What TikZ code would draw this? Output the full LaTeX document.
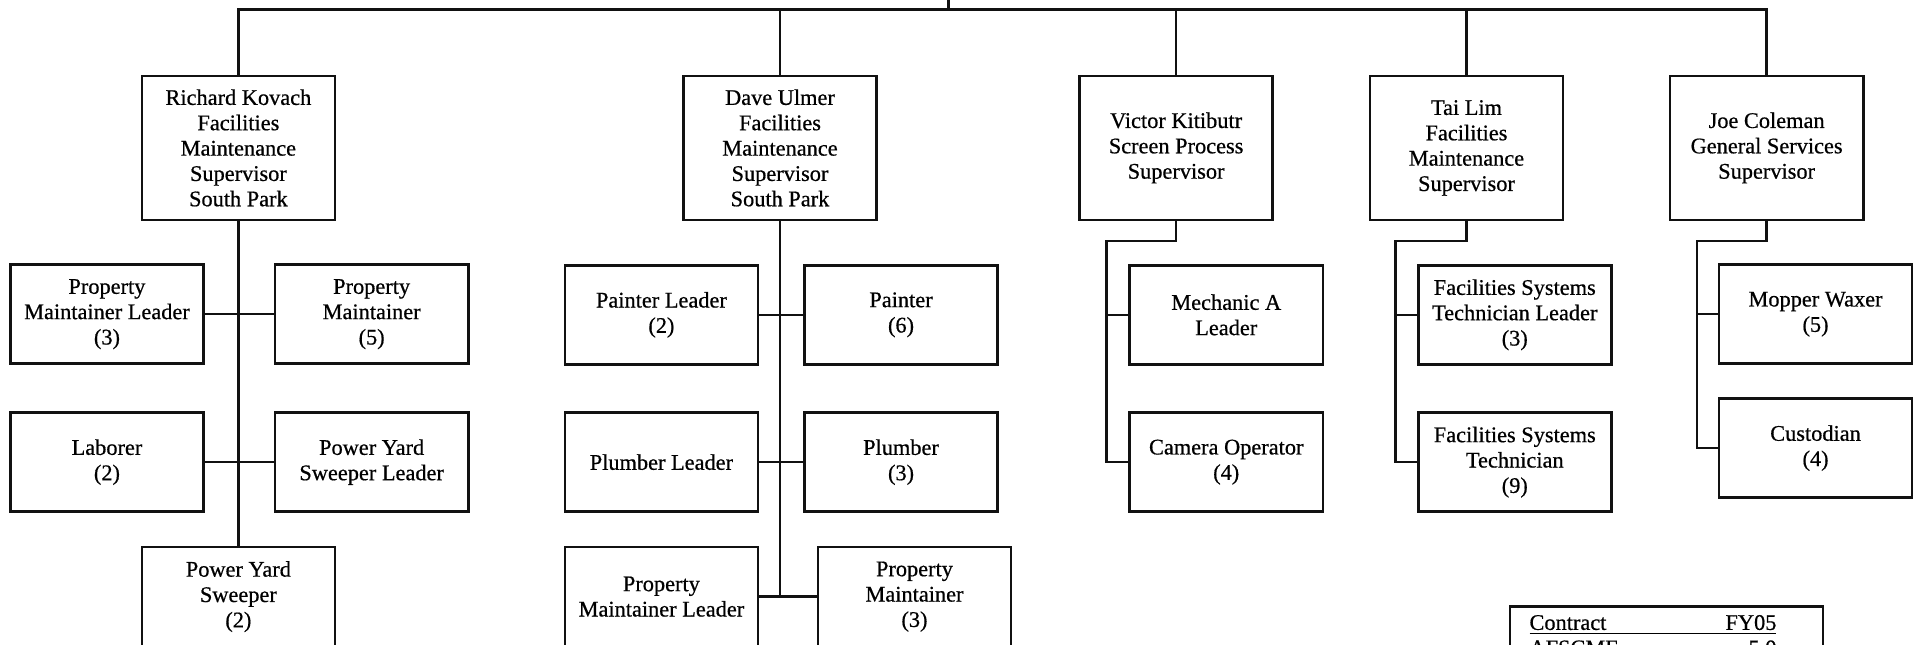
\documentclass[tikz,border=0pt]{standalone}
\usepackage{fontspec}
\setmainfont{Liberation Serif}[FakeBold=0.6]
\newfontfamily\chartfont{Liberation Serif}[FakeBold=0.6]
\usepackage{xcolor}
\definecolor{inkline}{HTML}{111111}
\definecolor{textmain}{HTML}{000000}

\begin{document}
\begin{tikzpicture}[
        x=0.02cm, y=-0.02cm,
        font=\chartfont\fontsize{10.4}{11.8}\selectfont,
        sup_box/.style={
            rectangle,
            draw=inkline,
            line width=1.2pt,
            fill=white,
            text=textmain,
            align=center,
            inner sep=2pt,
            minimum width=3.16cm,
            minimum height=2.36cm
        },
        job_box/.style={
            sup_box,
            minimum height=1.62cm
        },
        table_box/.style={
            rectangle,
            draw=inkline,
            line width=1.2pt,
            text=textmain,
            align=left,
            inner xsep=0.32cm,
            inner ysep=0.14cm,
            text width=4.48cm,
            anchor=north west
        },
        link/.style={
            draw=inkline,
            line width=1.2pt
        }
    ]

    % Page frame (the chart is cut off at the bottom)
    \useasboundingbox (0,0) rectangle (1568,527);
    \clip (0,0) rectangle (1568,527);

    % Supervisors
    \node[sup_box] (kovach) at (195,121) {Richard Kovach\\Facilities\\Maintenance\\Supervisor\\South Park};
    \node[sup_box] (ulmer) at (638,121) {Dave Ulmer\\Facilities\\Maintenance\\Supervisor\\South Park};
    \node[sup_box] (kitibutr) at (962,121) {Victor Kitibutr\\Screen Process\\Supervisor};
    \node[sup_box] (lim) at (1199.5,121) {Tai Lim\\Facilities\\Maintenance\\Supervisor};
    \node[sup_box] (coleman) at (1445,121) {Joe Coleman\\General Services\\Supervisor};

    % Kovach crews
    \node[job_box] (pml_a) at (87.5,257) {Property\\Maintainer Leader\\(3)};
    \node[job_box] (pm_a) at (304,257) {Property\\Maintainer\\(5)};
    \node[job_box] (laborer) at (87.5,378) {Laborer\\(2)};
    \node[job_box] (pysl_a) at (304,378) {Power Yard\\Sweeper Leader};
    \node[job_box] (pys_a) at (195,488) {Power Yard\\Sweeper\\(2)};

    % Ulmer crews
    \node[job_box] (painter_lead) at (541,257.5) {Painter Leader\\(2)};
    \node[job_box] (painter) at (737,257.5) {Painter\\(6)};
    \node[job_box] (plumber_lead) at (541,378) {Plumber Leader};
    \node[job_box] (plumber) at (737,378) {Plumber\\(3)};
    \node[job_box] (pml_b) at (541,488) {Property\\Maintainer Leader};
    \node[job_box] (pm_b) at (748,488) {Property\\Maintainer\\(3)};

    % Kitibutr crews
    \node[job_box] (mech_lead) at (1003,257.5) {Mechanic A\\Leader};
    \node[job_box] (camera) at (1003,378) {Camera Operator\\(4)};

    % Lim crews
    \node[job_box] (fst_lead) at (1239,257.5) {Facilities Systems\\Technician Leader\\(3)};
    \node[job_box] (fst) at (1239,378) {Facilities Systems\\Technician\\(9)};

    % Coleman crews
    \node[job_box] (mopper) at (1485,257) {Mopper Waxer\\(5)};
    \node[job_box] (custodian) at (1485,366.5) {Custodian\\(4)};

    % Staffing table (bottom right)
    \node[table_box] (contract) at (1234,495) {\underline{\makebox[4.04cm][s]{Contract\hfill FY05}}\\\makebox[4.04cm][s]{AFSCME\hfill 5.0}};

    % Top bus
    \coordinate (root) at (776,0);
    \coordinate (bus) at (776,8);
    \draw[link] (root) -- (bus);
    \draw[link] (kovach.north) |- (bus) -| (coleman.north);
    \draw[link] (ulmer.north) -- (ulmer.north |- bus);
    \draw[link] (kitibutr.north) -- (kitibutr.north |- bus);
    \draw[link] (lim.north) -- (lim.north |- bus);

    % Kovach links
    \draw[link] (kovach.south) -- (pys_a.north);
    \draw[link] (pml_a.east) -- (pm_a.west);
    \draw[link] (laborer.east) -- (pysl_a.west);

    % Ulmer links
    \draw[link] (ulmer.south) -- (ulmer.south |- pml_b.east);
    \draw[link] (painter_lead.east) -- (painter.west);
    \draw[link] (plumber_lead.east) -- (plumber.west);
    \draw[link] (pml_b.east) -- (pm_b.west);

    % Side spines
    \coordinate (kit_bend) at (905,197);
    \draw[link] (kitibutr.south) |- (kit_bend) |- (mech_lead.west);
    \draw[link] (kit_bend) |- (camera.west);

    \coordinate (lim_bend) at (1141.5,197);
    \draw[link] (lim.south) |- (lim_bend) |- (fst_lead.west);
    \draw[link] (lim_bend) |- (fst.west);

    \coordinate (cole_bend) at (1388,197);
    \draw[link] (coleman.south) |- (cole_bend) |- (mopper.west);
    \draw[link] (cole_bend) |- (custodian.west);

\end{tikzpicture}
\end{document}
